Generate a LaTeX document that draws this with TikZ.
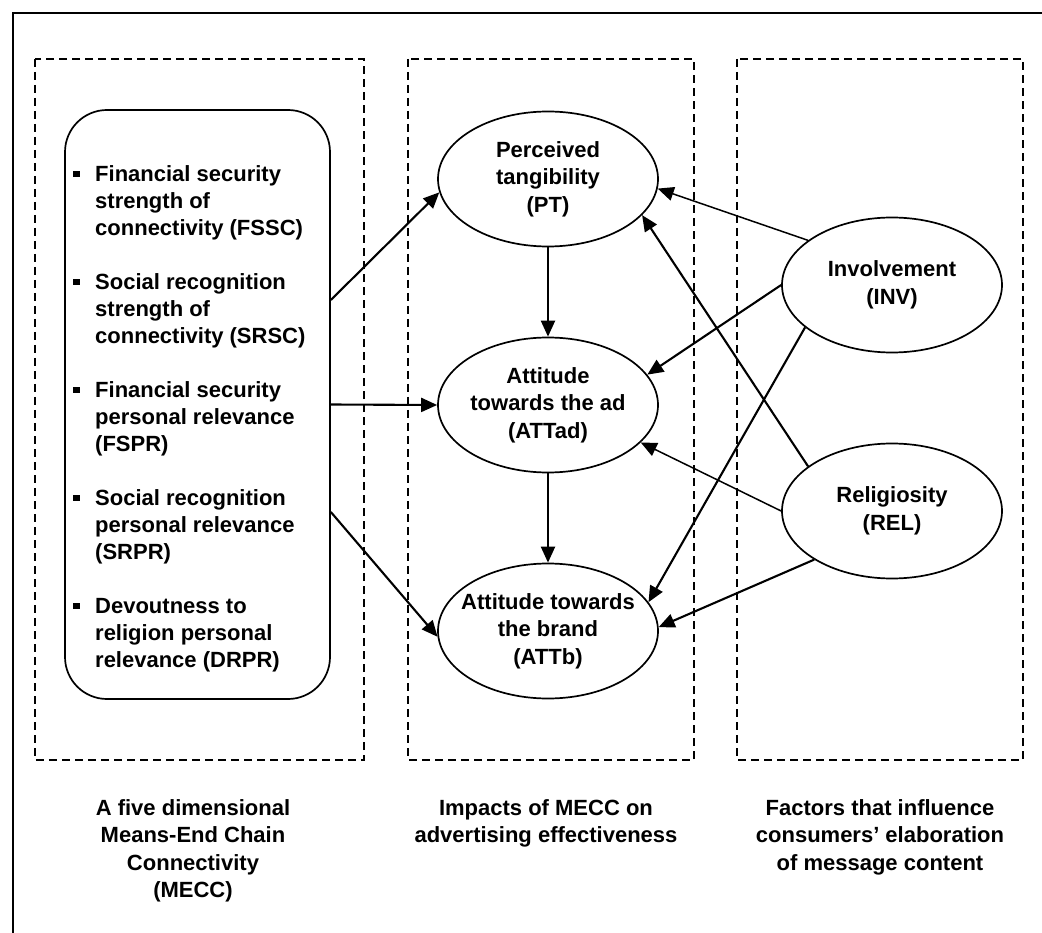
\documentclass[tikz,border=0pt]{standalone}
\usepackage{fontspec}
\setmainfont{Liberation Sans}
\usetikzlibrary{arrows.meta,shapes.geometric}
% square bullet with hanging indent for the MECC dimension list
\newcommand{\sqbul}{\makebox[22pt][l]{\rule[4pt]{6.5pt}{6.5pt}}}
\newcommand{\hang}{\hspace*{22pt}}
\begin{document}
\begin{tikzpicture}[x=1pt,y=-1pt,
  every node/.style={font=\fontsize{22}{27.5}\selectfont\bfseries, inner sep=0pt},
  construct/.style={draw, ellipse, line width=1.7pt, minimum width=220pt,
    minimum height=135pt, inner xsep=-15pt, align=center},
  panel/.style={draw, dash pattern=on 8pt off 5pt, line width=1.4pt},
  link/.style={-{Triangle[length=16pt,width=14pt]}, line width=2.1pt},
  thinlink/.style={link, line width=1.5pt},
  caption/.style={align=center}
]
\useasboundingbox (0,0) rectangle (1042,933);

% outer frame
\draw[line width=2pt] (13,945) -- (13,13) -- (1055,13);

% three dashed panels
\draw[panel] (35,59) rectangle (364,760);
\draw[panel] (408,59) rectangle (694,760);
\draw[panel] (737,59) rectangle (1023,760);

% MECC dimensions
\node[draw, rounded corners=42pt, line width=1.7pt, minimum width=265pt,
  minimum height=589pt] (mecc) at (197.5,404.5) {};
\node[anchor=west, align=left, font=\fontsize{22}{27}\selectfont\bfseries]
  (mecclist) at (73,418.5) {%
  \sqbul Financial security\\ \hang strength of\\ \hang connectivity (FSSC)\\[27pt]
  \sqbul Social recognition\\ \hang strength of\\ \hang connectivity (SRSC)\\[27pt]
  \sqbul Financial security\\ \hang personal relevance\\ \hang (FSPR)\\[27pt]
  \sqbul Social recognition\\ \hang personal relevance\\ \hang (SRPR)\\[27pt]
  \sqbul Devoutness to\\ \hang religion personal\\ \hang relevance (DRPR)};

% outcome constructs
\node[construct] (PT) at (548,179) {Perceived\\tangibility\\(PT)};
\node[construct] (ATTad) at (548,405) {Attitude\\towards the ad\\(ATTad)};
\node[construct] (ATTb) at (548,631) {Attitude towards\\the brand\\(ATTb)};

% moderating factors
\node[construct] (INV) at (892,285) {Involvement\\(INV)};
\node[construct] (REL) at (892,511) {Religiosity\\(REL)};

% MECC effects
\draw[link] ([yshift=104.5pt]mecc.east) -- (PT.187);
\draw[link] (mecc.east) -- (ATTad.west);
\draw[link] ([yshift=-107.5pt]mecc.east) -- (ATTb.183.6);

% hierarchy of effects
\draw[link] (PT.south) -- (ATTad.north);
\draw[link] (ATTad.south) -- (ATTb.north);

% involvement
\draw[thinlink] (INV.152.4) -- (PT.355.8);
\draw[link] (INV.west) -- (ATTad.17);
\draw[link] (INV.206.8) -- (ATTb.16.5);

% religiosity
\draw[link] (REL.152.7) -- (PT.339.4);
\draw[thinlink] (REL.west) -- (ATTad.338.5);
\draw[link] (REL.212.2) -- (ATTb.2.1);

% panel captions
\node[caption] (capA) at (193,851) {A five dimensional\\Means-End Chain\\Connectivity\\(MECC)};
\node[caption] (capB) at (546,823.5) {Impacts of MECC on\\advertising effectiveness};
\node[caption] (capC) at (880,837) {Factors that influence\\consumers’ elaboration\\of message content};
\end{tikzpicture}
\end{document}
